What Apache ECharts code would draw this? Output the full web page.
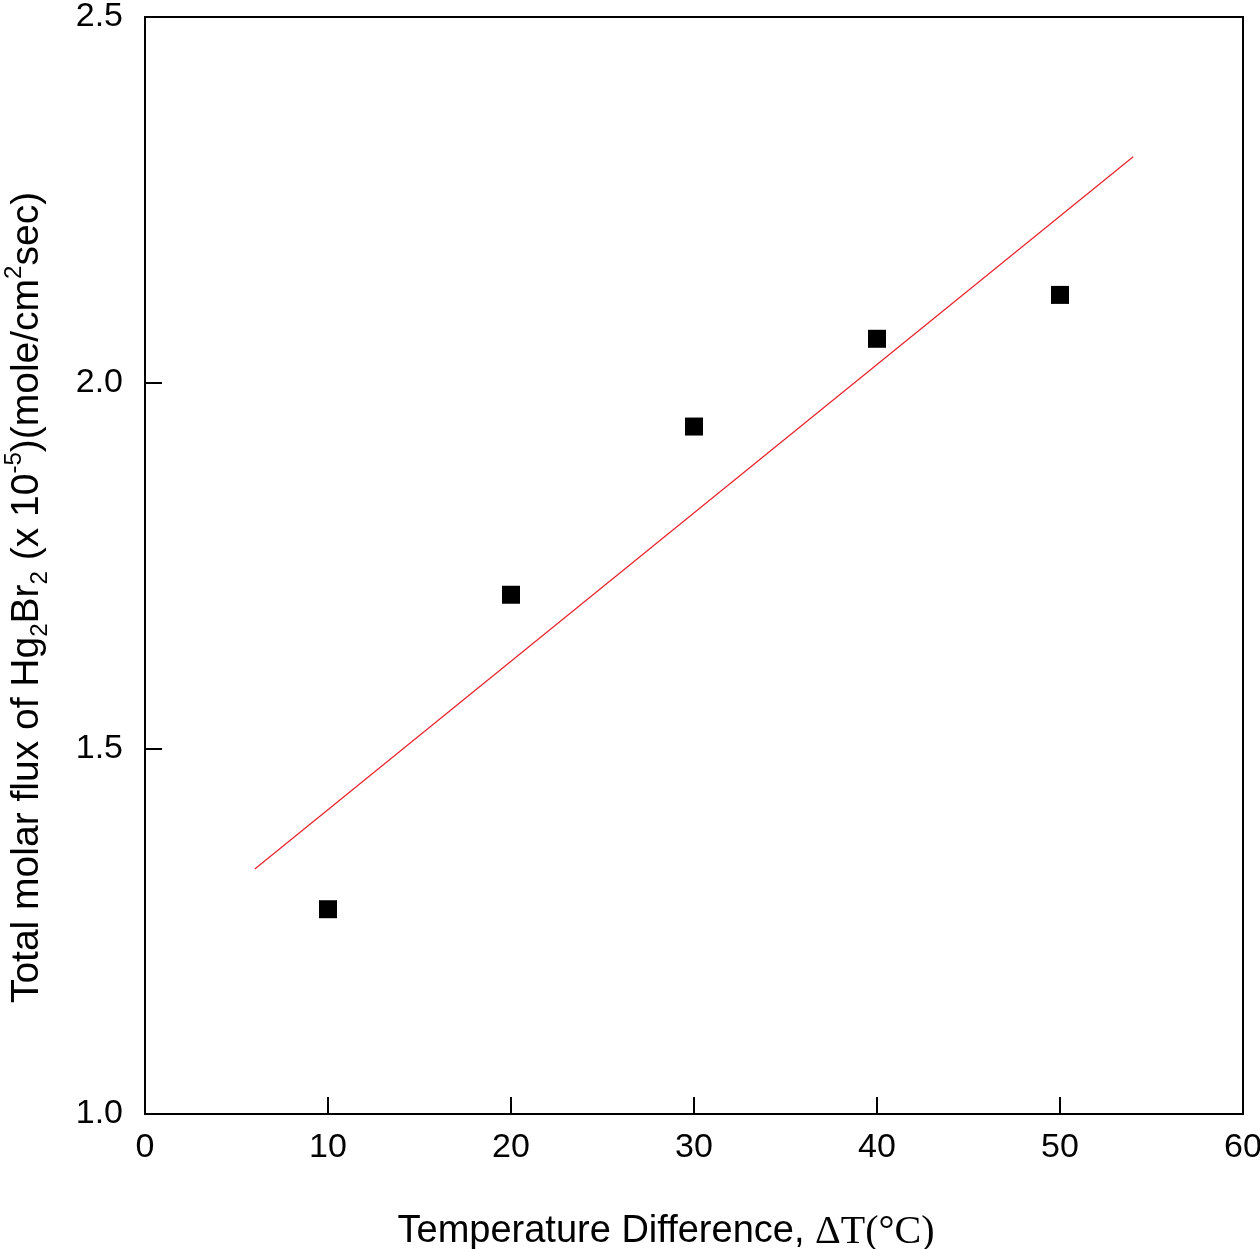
<!DOCTYPE html>
<html>
<head>
<meta charset="utf-8">
<title>Total molar flux of Hg2Br2 vs temperature difference</title>
<script src="https://cdn.jsdelivr.net/npm/echarts@6/dist/echarts.min.js"></script>
<style>
  html, body { margin: 0; padding: 0; background: #fff; }
  #chart { width: 1260px; height: 1249px; }
</style>
</head>
<body>
<div id="chart"></div>
<script>
// measured points (delta T in C, flux x 1e-5 mole/cm2 sec)
const deltaT = [10, 20, 30, 40, 50]
const molarFlux = [1.28, 1.71, 1.94, 2.06, 2.12]

// linear fit line, endpoints
const fitX = [6, 54]
const fitY = [1.335, 2.309]

const xTicks = [0, 10, 20, 30, 40, 50, 60]
const yTicks = [1.0, 1.5, 2.0, 2.5]

const chart = echarts.init(document.getElementById("chart"))

const sansFont = "'Liberation Sans', Arial, sans-serif"
const serifFont = "'Liberation Serif', 'Times New Roman', serif"

const option = {
  animation: false,
  backgroundColor: "#fff",
  grid: {
    left: 145,
    right: 17,
    top: 17,
    bottom: 135,
    show: true,
    borderColor: "#000",
    borderWidth: 2,
    containLabel: false,
    outerBoundsMode: "none",
  },
  xAxis: {
    type: "value",
    min: xTicks[0],
    max: xTicks[xTicks.length - 1],
    interval: 10,
    splitLine: { show: false },
    axisLine: { lineStyle: { color: "#000", width: 2 } },
    axisTick: { inside: true, length: 17, lineStyle: { color: "#000", width: 2 } },
    axisLabel: {
      color: "#000",
      fontFamily: sansFont,
      fontSize: 34,
      margin: 17,
      showMinLabel: true,
      showMaxLabel: true,
    },
    name: "{t|Temperature Difference, }{s|ΔT(°C)}",
    nameLocation: "middle",
    nameGap: 98,
    nameTextStyle: {
      padding: [0, 56, 0, 0],
      rich: {
        t: { fontFamily: sansFont, fontSize: 38, color: "#000" },
        s: { fontFamily: serifFont, fontSize: 40, color: "#000" },
      },
    },
  },
  yAxis: {
    type: "value",
    min: yTicks[0],
    max: yTicks[yTicks.length - 1],
    interval: 0.5,
    splitLine: { show: false },
    axisLine: { lineStyle: { color: "#000", width: 2 } },
    axisTick: { inside: true, length: 17, lineStyle: { color: "#000", width: 2 } },
    axisLabel: {
      color: "#000",
      fontFamily: sansFont,
      fontSize: 34,
      margin: 22,
      formatter: (v) => v.toFixed(1),
    },
    name: "{t|Total molar flux of Hg}{sub|2}{t|Br}{sub|2}{t| (x 10}{sup|-5}{t|)(mole/cm}{sup|2}{t|sec)}",
    nameLocation: "middle",
    nameRotate: 90,
    nameGap: 93,
    nameTextStyle: {
      padding: [0, 64, 0, 0],
      rich: {
        t: { fontFamily: sansFont, fontSize: 39, color: "#000", lineHeight: 50 },
        sub: { fontFamily: sansFont, fontSize: 24, color: "#000", lineHeight: 24, verticalAlign: "bottom" },
        sup: { fontFamily: sansFont, fontSize: 24, color: "#000", lineHeight: 24, verticalAlign: "top" },
      },
    },
  },
  series: [
    {
      name: "Fit",
      type: "line",
      data: fitX.map((x, i) => [x, fitY[i]]),
      symbol: "none",
      lineStyle: { color: "#e8202a", width: 1.2 },
      z: 2,
    },
    {
      name: "Data",
      type: "scatter",
      data: deltaT.map((x, i) => [x, molarFlux[i]]),
      symbol: "rect",
      symbolSize: 18,
      itemStyle: { color: "#000", opacity: 1 },
      z: 3,
    },
  ],
}

chart.setOption(option)
</script>
</body>
</html>
